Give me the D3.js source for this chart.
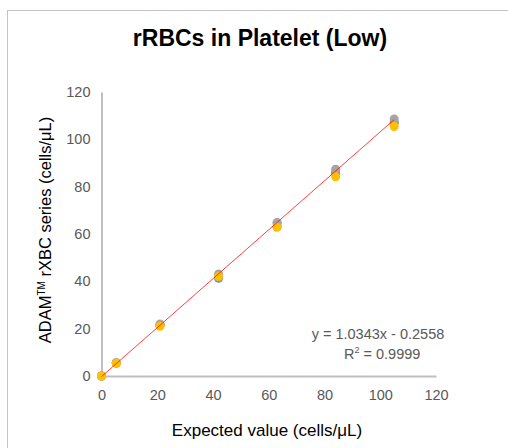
<!DOCTYPE html>
<html>
<head>
<meta charset="utf-8">
<script src="https://cdn.jsdelivr.net/npm/d3@7"></script>
<style>
  body { margin: 0; background: #fff; }
  svg { display: block; font-family: "Liberation Sans", Arial, sans-serif; }
</style>
</head>
<body>
<div id="chart"></div>
<script>
  // expected concentrations (x) and the four measured runs (y)
  var expected = [0, 5.3, 21, 42, 63, 84, 105];
  var run1 = [0, 5.5, 21.6, 41.3, 64.6, 86.2, 107.4];
  var run2 = [0, 5.5, 21.4, 42.2, 63.2, 85.6, 106.8];
  var run3 = [0, 5.6, 22.0, 43.1, 64.9, 87.4, 108.6];
  var run4 = [0, 5.4, 21.0, 42.0, 62.8, 84.2, 105.4];
  var seriesColors = ['#5b9bd5', '#ed7d31', '#a5a5a5', '#ffc000'];
  var ticks = [0, 20, 40, 60, 80, 100, 120];
  var slope = 1.0343, intercept = -0.2558, r2 = '0.9999';

  var width = 508, height = 448;
  var svg = d3.select('#chart').append('svg').attr('width', width).attr('height', height);

  // chart frame (runs off the right/bottom edge)
  svg.append('rect').attr('x', 7.5).attr('y', 10.5).attr('width', 600).attr('height', 500)
    .attr('fill', '#fff').attr('stroke', '#c4c4c4').attr('stroke-width', 1);

  var x = d3.scaleLinear().domain([0, 120]).range([101.5, 436]);
  var y = d3.scaleLinear().domain([0, 120]).range([376, 92]);

  svg.append('text').attr('x', 260).attr('y', 46).attr('text-anchor', 'middle')
    .attr('font-size', 23).attr('font-weight', 'bold').attr('fill', '#000')
    .text('rRBCs in Platelet (Low)');

  // axes
  var xAxis = svg.append('g').attr('transform', 'translate(0,' + y(0) + ')')
    .call(d3.axisBottom(x).tickValues(ticks).tickSize(0).tickPadding(14));
  var yAxis = svg.append('g').attr('transform', 'translate(' + x(0) + ',0)')
    .call(d3.axisLeft(y).tickValues(ticks).tickSize(0).tickPadding(11));
  [xAxis, yAxis].forEach(function (g) {
    g.select('.domain').attr('stroke', '#bfbfbf').attr('stroke-width', 2);
    g.selectAll('text').attr('fill', '#595959').attr('font-size', 14.5)
      .attr('font-family', '"Liberation Sans", Arial, sans-serif');
  });

  // axis titles
  svg.append('text').attr('x', 267).attr('y', 436).attr('text-anchor', 'middle')
    .attr('font-size', 17).attr('fill', '#000').text('Expected value (cells/μL)');
  var yTitle = svg.append('text').attr('transform', 'translate(51,230) rotate(-90)')
    .attr('text-anchor', 'middle').attr('font-size', 16.5).attr('fill', '#000');
  yTitle.append('tspan').text('ADAM');
  yTitle.append('tspan').attr('font-size', 10).attr('dy', -6).text('TM');
  yTitle.append('tspan').attr('dy', 6).text(' rXBC series (cells/μL)');

  // points
  [run1, run2, run3, run4].forEach(function (vals, i) {
    svg.append('g').selectAll('circle').data(vals).join('circle')
      .attr('cx', function (d, j) { return x(expected[j]); })
      .attr('cy', function (d) { return y(d); })
      .attr('r', 4.5).attr('fill', seriesColors[i]);
  });

  // linear trendline
  var xs = d3.extent(expected);
  svg.append('line')
    .attr('x1', x(xs[0])).attr('y1', y(slope * xs[0] + intercept))
    .attr('x2', x(xs[1])).attr('y2', y(slope * xs[1] + intercept))
    .attr('stroke', '#ff0000').attr('stroke-opacity', 0.75).attr('stroke-width', 1);

  // equation label
  var eq = svg.append('g').attr('fill', '#595959').attr('font-size', 14.5);
  eq.append('text').attr('x', 378).attr('y', 339).attr('text-anchor', 'middle')
    .text('y = ' + slope + 'x - ' + Math.abs(intercept));
  var r = eq.append('text').attr('x', 344).attr('y', 359);
  r.append('tspan').text('R');
  r.append('tspan').attr('font-size', 9).attr('dy', -6).text('2');
  r.append('tspan').attr('dy', 6).text(' = ' + r2);
</script>
</body>
</html>
